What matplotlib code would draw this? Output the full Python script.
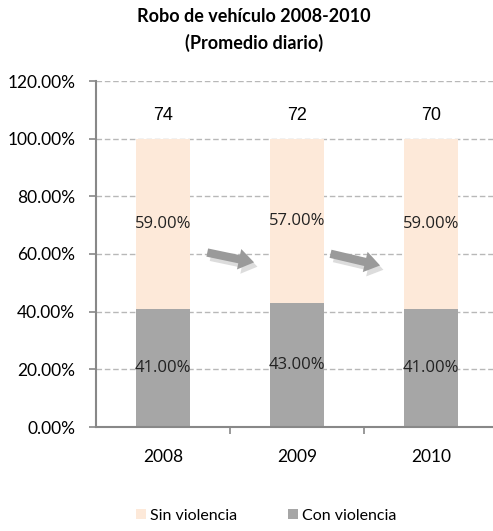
import numpy as np
import matplotlib.pyplot as plt

years = ["2008", "2009", "2010"]
con_violencia = [41.0, 43.0, 41.0]
sin_violencia = [59.0, 57.0, 59.0]
promedio_diario = [74, 72, 70]
yticks = [0, 20, 40, 60, 80, 100, 120]

c_sin = "#FDE9D9"
c_con = "#A6A6A6"

fig = plt.figure(figsize=(4.93, 5.31), dpi=100)
ax = fig.add_axes([96 / 493, 104 / 531, 397 / 493, 346 / 531])

x = np.arange(len(years))
w = 0.4
ax.bar(x, con_violencia, w, color=c_con, label="Con violencia", zorder=2)
ax.bar(x, sin_violencia, w, bottom=con_violencia, color=c_sin,
       label="Sin violencia", zorder=2)

for i in range(len(years)):
    ax.text(x[i], con_violencia[i] / 2, f"{con_violencia[i]:.2f}%",
            ha="center", va="center", fontsize=12, family="Open Sans",
            color="#222222", zorder=3)
    ax.text(x[i], con_violencia[i] + sin_violencia[i] / 2,
            f"{sin_violencia[i]:.2f}%", ha="center", va="center",
            fontsize=12, family="Open Sans", color="#222222", zorder=3)
    ax.text(x[i], 108, str(promedio_diario[i]), ha="center", va="center",
            fontsize=13, family="Liberation Sans", color="black")

# arrows between bars
style = "simple,head_width=1.5,head_length=1.1,tail_width=0.6"
for x0, x1, y0, y1 in [(0.31, 0.70, 60.7, 56.9), (1.23, 1.64, 60.3, 55.8)]:
    ax.annotate("", xy=(x1 + 0.025, y1 - 1.5), xytext=(x0 + 0.025, y0 - 1.5),
                arrowprops=dict(arrowstyle=style, color="#dcdcdc", lw=0), zorder=3)
    ax.annotate("", xy=(x1, y1), xytext=(x0, y0),
                arrowprops=dict(arrowstyle=style, color="#9a9a9a", lw=0), zorder=4)

ax.set_ylim(0, 120)
ax.set_xlim(-0.5, -0.5 + 397 / 134)
ax.set_yticks(yticks)
ax.set_yticklabels([f"{v:.2f}%" for v in yticks], family="Lato", fontsize=12.5)
ax.set_xticks(x)
ax.set_xticklabels(years, family="Lato", fontsize=12.5)
ax.tick_params(axis="x", length=0, pad=16)
ax.tick_params(axis="y", length=5, color="#888888", width=1.2, pad=10)
ax.set_xticks([0.5, 1.5], minor=True)
ax.tick_params(axis="x", which="minor", length=5, color="#888888", width=1.2)

ax.yaxis.grid(True, linestyle=(0, (4, 2)), color="#b8b8b8", lw=1, zorder=0)
for s in ["top", "right"]:
    ax.spines[s].set_visible(False)
for s in ["left", "bottom"]:
    ax.spines[s].set_color("#888888")
    ax.spines[s].set_linewidth(1.5)

fig.text(254 / 493, 1 - 17 / 531, "Robo de vehículo 2008-2010", ha="center",
         va="center", fontsize=13, fontweight="bold", family="Lato")
fig.text(254 / 493, 1 - 43 / 531, "(Promedio diario)", ha="center",
         va="center", fontsize=13, fontweight="bold", family="Lato")

h, l = ax.get_legend_handles_labels()
fig.legend(h[::-1], l[::-1], loc="center", bbox_to_anchor=(266 / 493, 1 - 516 / 531),
           ncol=2, frameon=False, prop={"family": "Lato", "size": 11.5},
           handlelength=0.6, handleheight=0.6, handletextpad=0.25,
           columnspacing=3.2)

fig.savefig("out.png", dpi=100)
